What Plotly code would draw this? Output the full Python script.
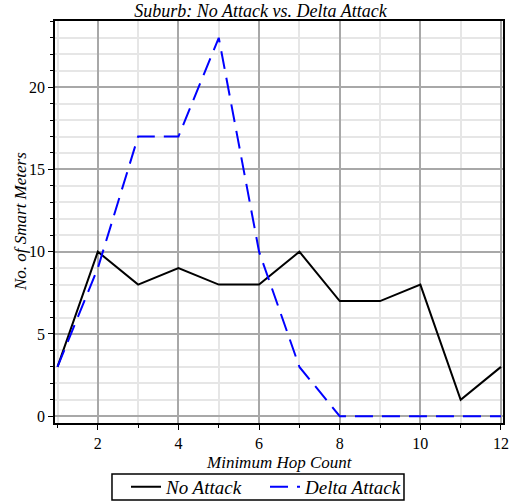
import plotly.graph_objects as go

hops = [1, 2, 3, 4, 5, 6, 7, 8, 9, 10, 11, 12]
no_attack = [3, 10, 8, 9, 8, 8, 10, 7, 7, 8, 1, 3]
delta_attack = [3, 9, 17, 17, 23, 10, 3, 0, 0, 0, 0, 0]
x_ticks = [2, 4, 6, 8, 10, 12]
y_ticks = [0, 5, 10, 15, 20]

FONT = "Liberation Serif, Times New Roman, serif"

fig = go.Figure()
fig.add_trace(go.Scatter(x=hops, y=no_attack, mode="lines", name="No Attack",
                         line=dict(color="black", width=2)))
fig.add_trace(go.Scatter(x=hops, y=delta_attack, mode="lines", name="Delta Attack",
                         line=dict(color="#0000ff", width=2, dash="18px,9px")))

fig.update_layout(
    width=521, height=504,
    margin=dict(l=55, r=18, t=21, b=81, autoexpand=False),
    plot_bgcolor="white", paper_bgcolor="white",
    font=dict(family=FONT, size=16, color="black"),
    title=dict(text="Suburb: No Attack vs. Delta Attack", x=0.5, xanchor="center",
               yref="container", y=0.979, yanchor="middle", pad=dict(t=0, b=0),
               font=dict(family=FONT, size=18, style="italic")),
    legend=dict(orientation="h", xref="container", x=126 / 521, xanchor="left",
                yref="container", y=0.034, yanchor="middle",
                borderwidth=0, bgcolor="rgba(0,0,0,0)",
                font=dict(family=FONT, size=19, style="italic"),
                entrywidth=94, itemwidth=30, tracegroupgap=0),
    xaxis=dict(range=[0.938, 12.05], tickvals=x_ticks,
               showgrid=True, gridcolor="#a8a8a8", gridwidth=1.5,
               minor=dict(dtick=1, tick0=1, showgrid=True, gridcolor="#e6e6e6",
                          gridwidth=1.5, ticks="outside", ticklen=3, tickcolor="black"),
               ticks="outside", ticklen=5, tickcolor="black",
               showline=True, linecolor="black", linewidth=1.5, mirror=True,
               zeroline=False),
    yaxis=dict(range=[-0.41, 24.02], tickvals=y_ticks,
               showgrid=True, gridcolor="#a8a8a8", gridwidth=1.5,
               minor=dict(dtick=1, tick0=0, showgrid=True, gridcolor="#e6e6e6",
                          gridwidth=1.5, ticks="outside", ticklen=3, tickcolor="black"),
               ticks="outside", ticklen=5, tickcolor="black",
               showline=True, linecolor="black", linewidth=1.5, mirror=True,
               zeroline=False),
    annotations=[
        dict(text="Minimum Hop Count", xref="paper", yref="paper", x=0.5, y=-0.099,
             xanchor="center", yanchor="middle", showarrow=False,
             font=dict(family=FONT, size=17, style="italic")),
        dict(text="No. of Smart Meters", xref="paper", yref="paper", x=-0.078, y=0.5,
             xanchor="center", yanchor="middle", textangle=-90, showarrow=False,
             font=dict(family=FONT, size=17, style="italic")),
    ],
    shapes=[
        dict(type="rect", xref="paper", yref="paper", x0=0.1272, x1=0.779,
             y0=-0.1269, y1=-0.1915, line=dict(color="black", width=1.5)),
    ],
)

fig.write_html("out.html", config={"displayModeBar": False},
               post_script="document.body.style.margin='0';document.body.style.overflow='hidden';")
